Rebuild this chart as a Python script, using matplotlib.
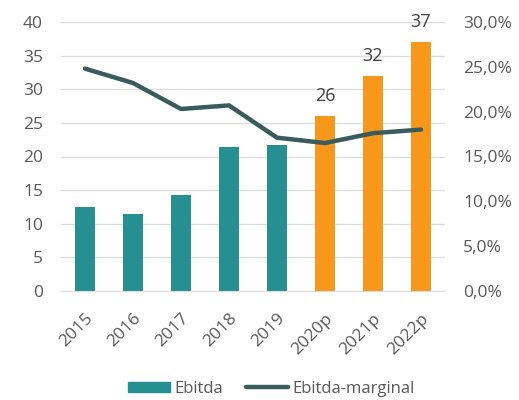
import matplotlib.pyplot as plt
from matplotlib.ticker import FuncFormatter

plt.rcParams['font.family'] = ['Open Sans', 'DejaVu Sans']

# Ebitda and margin by year
years = ["2015", "2016", "2017", "2018", "2019", "2020p", "2021p", "2022p"]
ebitda = [12.5, 11.4, 14.3, 21.4, 21.7, 26, 32, 37]
margin = [24.8, 23.2, 20.3, 20.7, 17.1, 16.5, 17.6, 18.0]
forecast = [False, False, False, False, False, True, True, True]

teal = "#268F91"
orange = "#F7981D"
line_col = "#3A5B5E"
text_col = "#595959"

fig = plt.figure(figsize=(5.19, 4.0), dpi=100)
ax = fig.add_axes([61 / 519, 1 - 291 / 400, 384 / 519, 269 / 400])
ax2 = ax.twinx()

x = list(range(len(years)))
colors = [orange if f else teal for f in forecast]
bars = ax.bar(x, ebitda, width=0.4, color=colors, zorder=2, label="Ebitda")
ax2.plot(x, margin, color=line_col, lw=3.2, solid_capstyle="round", label="Ebitda-marginal")

# value labels on forecast bars only
for xi, v, f in zip(x, ebitda, forecast):
    if f:
        ax.text(xi, v + 1.6, f"{v:g}", ha="center", va="bottom", fontsize=13, color="#404040")

ax.set_xlim(-0.5, 7.5)
ax.set_ylim(0, 40)
ax.set_yticks(range(0, 41, 5))
ax2.set_ylim(0, 30)
ax2.set_yticks(range(0, 31, 5))
ax2.yaxis.set_major_formatter(FuncFormatter(lambda v, p: f"{v:.1f}%".replace(".", ",")))

ax.set_xticks(x)
ax.set_xticklabels(years, rotation=45, ha="right", rotation_mode="anchor")

ax.grid(axis="y", color="#DDDDDD", lw=1, zorder=0)
for a in (ax, ax2):
    for s in a.spines.values():
        s.set_visible(False)
    a.tick_params(length=0, labelsize=12.5, colors=text_col)
ax.spines["bottom"].set_visible(True)
ax.spines["bottom"].set_color("#DDDDDD")
ax.tick_params(axis="y", pad=13)
ax2.tick_params(axis="y", pad=13)
ax.tick_params(axis="x", pad=14)

h1 = [plt.Rectangle((0, 0), 1, 1, color=teal)]
h2, _ = ax2.get_legend_handles_labels()
fig.legend(h1 + h2, ["Ebitda", "Ebitda-marginal"], loc="lower center",
           bbox_to_anchor=(0.523, -0.03), ncol=2, frameon=False, fontsize=12,
           labelcolor=text_col, handlelength=2.5, handleheight=0.6,
           handletextpad=0.25, columnspacing=1.4)

fig.savefig("out.png", dpi=100)
